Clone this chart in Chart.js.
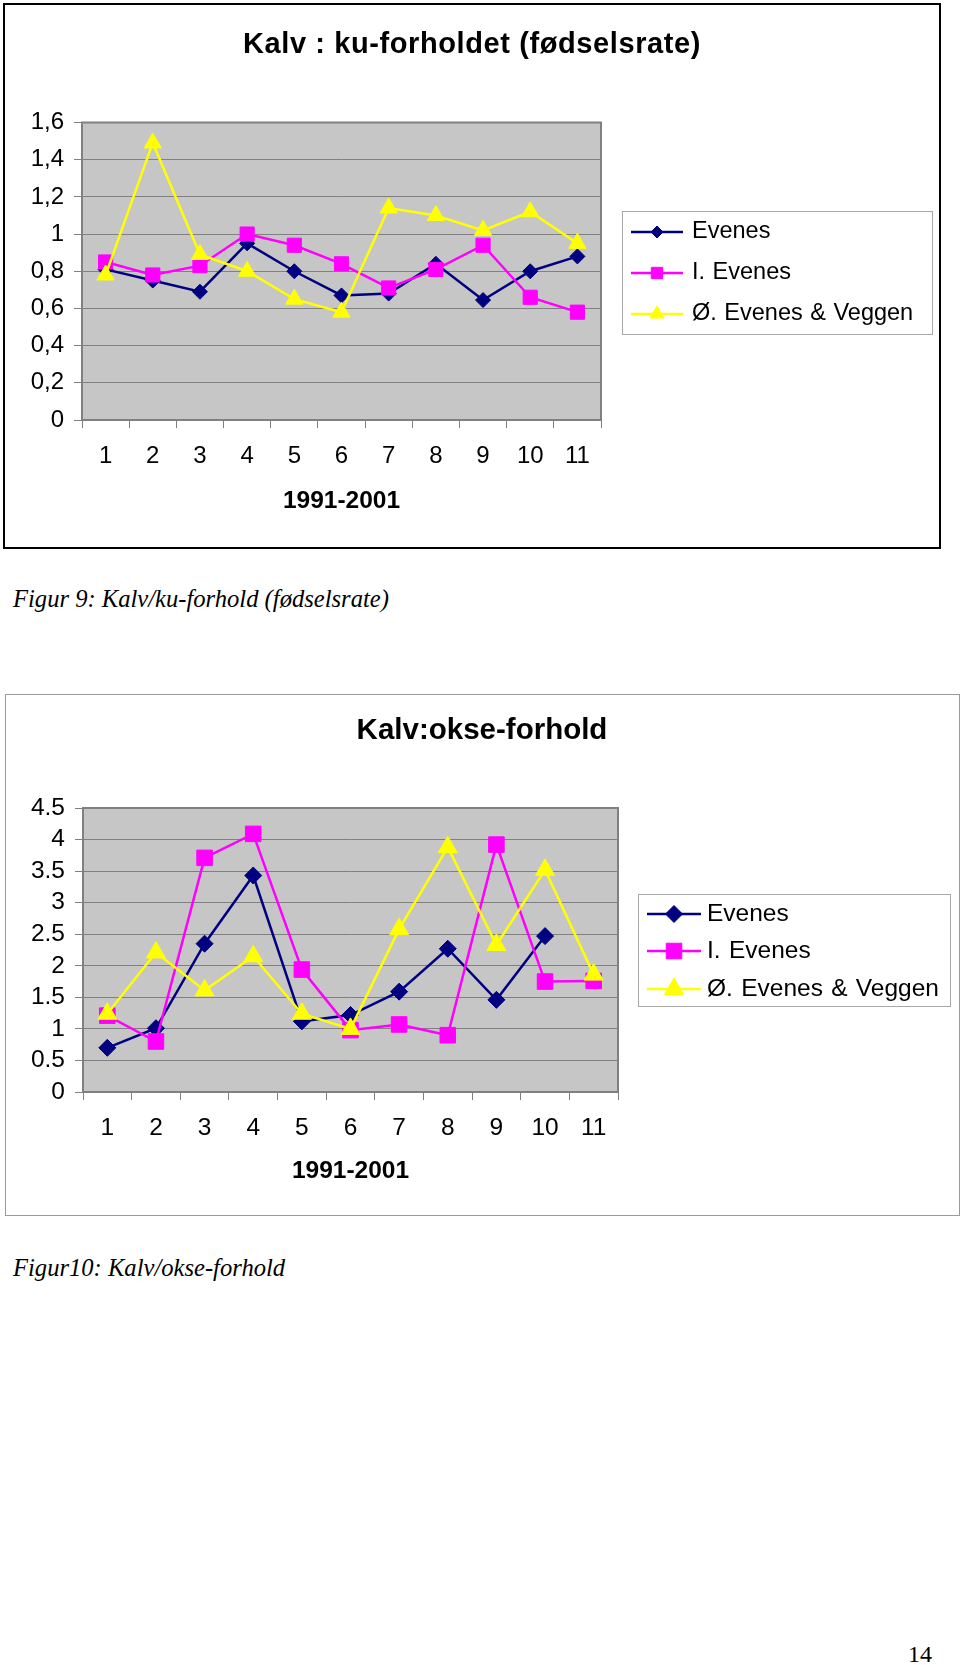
<!DOCTYPE html>
<html>
<head>
<meta charset="utf-8">
<script src="https://cdn.jsdelivr.net/npm/chart.js@4.4.1/dist/chart.umd.min.js"></script>
<style>
  body { margin: 0; background: #fff; width: 960px; height: 1665px; position: relative; overflow: hidden; }
  .box1 { position: absolute; left: 3px; top: 3px; width: 938px; height: 546px; border: 2px solid #000; box-sizing: border-box; }
  .box2 { position: absolute; left: 5px; top: 694px; width: 955px; height: 522px; border: 1px solid #9a9a9a; box-sizing: border-box; }
  .wrap { position: absolute; left: 0; width: 960px; }
  .caption { position: absolute; left: 13px; line-height: 28px; font: italic 24.6px "Liberation Serif", "Times New Roman", serif; white-space: nowrap; }
  .page { position: absolute; left: 908px; top: 1641px; line-height: 28px; font: 24px "Liberation Serif", "Times New Roman", serif; }
</style>
</head>
<body>
<div class="box1"></div>
<div class="wrap" style="top:0;height:560px"><canvas id="kuChart" width="960" height="560"></canvas></div>
<div class="caption" style="top:585px">Figur 9: Kalv/ku-forhold (fødselsrate)</div>

<div class="box2"></div>
<div class="wrap" style="top:690px;height:540px"><canvas id="okseChart" width="960" height="540"></canvas></div>
<div class="caption" style="top:1254px">Figur10: Kalv/okse-forhold</div>

<div class="page">14</div>

<script>
// --- data ---
const years = ['1', '2', '3', '4', '5', '6', '7', '8', '9', '10', '11'];
const seriesNames = ['Evenes', 'I. Evenes', 'Ø. Evenes & Veggen'];

// Figur 9: kalv:ku
const kuEvenes  = [0.81, 0.75, 0.69, 0.95, 0.80, 0.67, 0.68, 0.84, 0.645, 0.80, 0.88];
const kuIEvenes = [0.85, 0.78, 0.83, 1.00, 0.94, 0.84, 0.71, 0.81, 0.94, 0.66, 0.58];
const kuOEvenes = [0.78, 1.49, 0.89, 0.80, 0.65, 0.58, 1.14, 1.10, 1.02, 1.12, 0.95];
const kuTickLabels = ['0', '0,2', '0,4', '0,6', '0,8', '1', '1,2', '1,4', '1,6'];

// Figur 10: kalv:okse (siste år mangler for Evenes)
const okseEvenes  = [0.70, 1.01, 2.35, 3.43, 1.12, 1.22, 1.59, 2.27, 1.46, 2.47, null];
const okseIEvenes = [1.21, 0.80, 3.71, 4.09, 1.94, 0.98, 1.07, 0.90, 3.92, 1.75, 1.76];
const okseOEvenes = [1.24, 2.21, 1.61, 2.15, 1.24, 1.00, 2.58, 3.88, 2.33, 3.52, 1.86];
const okseTickLabels = ['0', '0.5', '1', '1.5', '2', '2.5', '3', '3.5', '4', '4.5'];

const FONT = '"Liberation Sans", Arial, sans-serif';
Chart.defaults.font.family = FONT;
Chart.defaults.color = '#000';

// Excel-aktig ramme, tittel og forklaring
const excelFrame = {
  id: 'excelFrame',
  beforeDraw(chart) {
    const { ctx, chartArea: a } = chart;
    ctx.save();
    ctx.fillStyle = '#c6c6c6';
    ctx.fillRect(a.left, a.top, a.right - a.left, a.bottom - a.top);
    ctx.restore();
  },
  beforeDatasetsDraw(chart) {
    const { ctx, chartArea: a } = chart;
    ctx.save();
    ctx.strokeStyle = '#808080';
    ctx.lineWidth = 2;
    ctx.strokeRect(a.left, a.top, a.right - a.left, a.bottom - a.top);
    ctx.restore();
  },
  afterDraw(chart, args, opts) {
    const ctx = chart.ctx;
    ctx.save();
    // tittel
    ctx.font = `bold ${opts.titleSize}px ${FONT}`;
    ctx.fillStyle = '#000';
    ctx.textAlign = 'center';
    ctx.textBaseline = 'middle';
    if ('letterSpacing' in ctx) ctx.letterSpacing = opts.titleSpacing + 'px';
    ctx.fillText(opts.title, opts.titleX, opts.titleY);
    if ('letterSpacing' in ctx) ctx.letterSpacing = '0px';

    // forklaring
    const L = opts.legend;
    ctx.fillStyle = '#fff';
    ctx.fillRect(L.x, L.y, L.w, L.h);
    ctx.strokeStyle = '#a8a8a8';
    ctx.lineWidth = 1;
    ctx.strokeRect(L.x + 0.5, L.y + 0.5, L.w, L.h);
    chart.data.datasets.forEach((ds, i) => {
      const y = L.rows[i];
      ctx.strokeStyle = ds.borderColor;
      ctx.lineWidth = ds.borderWidth;
      ctx.beginPath();
      ctx.moveTo(L.x1, y);
      ctx.lineTo(L.x2, y);
      ctx.stroke();
      ctx.fillStyle = ds.pointBackgroundColor;
      ctx.strokeStyle = ds.pointBorderColor;
      ctx.lineWidth = 1;
      if (Chart.helpers && Chart.helpers.drawPoint) {
        Chart.helpers.drawPoint(ctx, {
          pointStyle: ds.pointStyle, rotation: 0, borderWidth: 1,
          radius: ds.pointRadius * L.markerScale
        }, (L.x1 + L.x2) / 2, y);
      }
      ctx.fillStyle = '#000';
      ctx.font = `${L.fontSize}px ${FONT}`;
      ctx.textAlign = 'left';
      ctx.textBaseline = 'middle';
      if ('wordSpacing' in ctx) ctx.wordSpacing = L.wordSpacing + 'px';
      ctx.fillText(ds.label, L.textX, y);
      if ('wordSpacing' in ctx) ctx.wordSpacing = '0px';
    });
    ctx.restore();
  }
};

function series(label, data, color, style, radius, order) {
  return {
    label, data, order,
    borderColor: color, backgroundColor: color,
    pointBackgroundColor: color, pointBorderColor: color,
    pointStyle: style, pointRadius: radius, pointHoverRadius: radius,
    borderWidth: 2.5, pointBorderWidth: 1, tension: 0, spanGaps: false
  };
}

function makeChart(canvasId, cfg) {
  const step = cfg.step;
  return new Chart(document.getElementById(canvasId), {
    type: 'line',
    data: {
      labels: years,
      datasets: [
        series(seriesNames[0], cfg.data[0], '#000080', 'rectRot', cfg.radii[0], 2),
        series(seriesNames[1], cfg.data[1], '#ff00ff', 'rect', cfg.radii[1], 1),
        series(seriesNames[2], cfg.data[2], '#ffff00', 'triangle', cfg.radii[2], 0)
      ]
    },
    plugins: [excelFrame],
    options: {
      responsive: false,
      animation: false,
      events: [],
      layout: { padding: cfg.padding },
      plugins: {
        legend: { display: false },
        title: { display: false },
        tooltip: { enabled: false },
        excelFrame: cfg.frame
      },
      scales: {
        x: {
          offset: true,
          grid: { offset: true, drawOnChartArea: false, tickLength: 8, tickColor: '#808080', lineWidth: 1 },
          border: { display: false },
          ticks: { padding: cfg.xPad, font: { size: cfg.tickSize }, color: '#000', maxRotation: 0, autoSkip: false },
          title: {
            display: true, text: '1991-2001', color: '#000',
            font: { size: 24.5, weight: 'bold' }, padding: { top: 0, bottom: cfg.titlePad }
          },
          afterFit(s) { s.height = 100; }
        },
        y: {
          min: 0, max: cfg.max,
          grid: { color: '#808080', lineWidth: 1, tickLength: 8, tickColor: '#808080' },
          border: { display: false },
          ticks: {
            stepSize: step, padding: 10, font: { size: cfg.tickSize }, color: '#000', autoSkip: false,
            callback: v => cfg.tickLabels[Math.round(v / step)]
          },
          afterFit(s) { s.width = cfg.yWidth; }
        }
      }
    }
  });
}

makeChart('kuChart', {
  data: [kuEvenes, kuIEvenes, kuOEvenes],
  radii: [7.5, 10, 10],
  max: 1.6, step: 0.2, tickLabels: kuTickLabels, tickSize: 24,
  padding: { left: 0, right: 359, top: 122.5, bottom: 40 },
  yWidth: 82, xPad: 13.5, titlePad: 4.5,
  frame: {
    title: 'Kalv : ku-forholdet (fødselsrate)', titleSize: 29, titleSpacing: 0.6, titleX: 472, titleY: 45,
    legend: { x: 622, y: 211, w: 310, h: 123, rows: [232, 273, 314], x1: 631, x2: 683, textX: 692,
              fontSize: 23.5, wordSpacing: 1, markerScale: 0.8 }
  }
});

makeChart('okseChart', {
  data: [okseEvenes, okseIEvenes, okseOEvenes],
  radii: [8.5, 11, 11],
  max: 4.5, step: 0.5, tickLabels: okseTickLabels, tickSize: 24.5,
  padding: { left: 0, right: 342, top: 118, bottom: 38 },
  yWidth: 83, xPad: 13.5, titlePad: 6.5,
  frame: {
    title: 'Kalv:okse-forhold', titleSize: 29.5, titleSpacing: 0, titleX: 482, titleY: 40.5,
    legend: { x: 638, y: 204, w: 312, h: 112, rows: [224, 261, 299], x1: 647, x2: 701, textX: 707,
              fontSize: 24.5, wordSpacing: 1.5, markerScale: 1 }
  }
});
</script>
</body>
</html>
